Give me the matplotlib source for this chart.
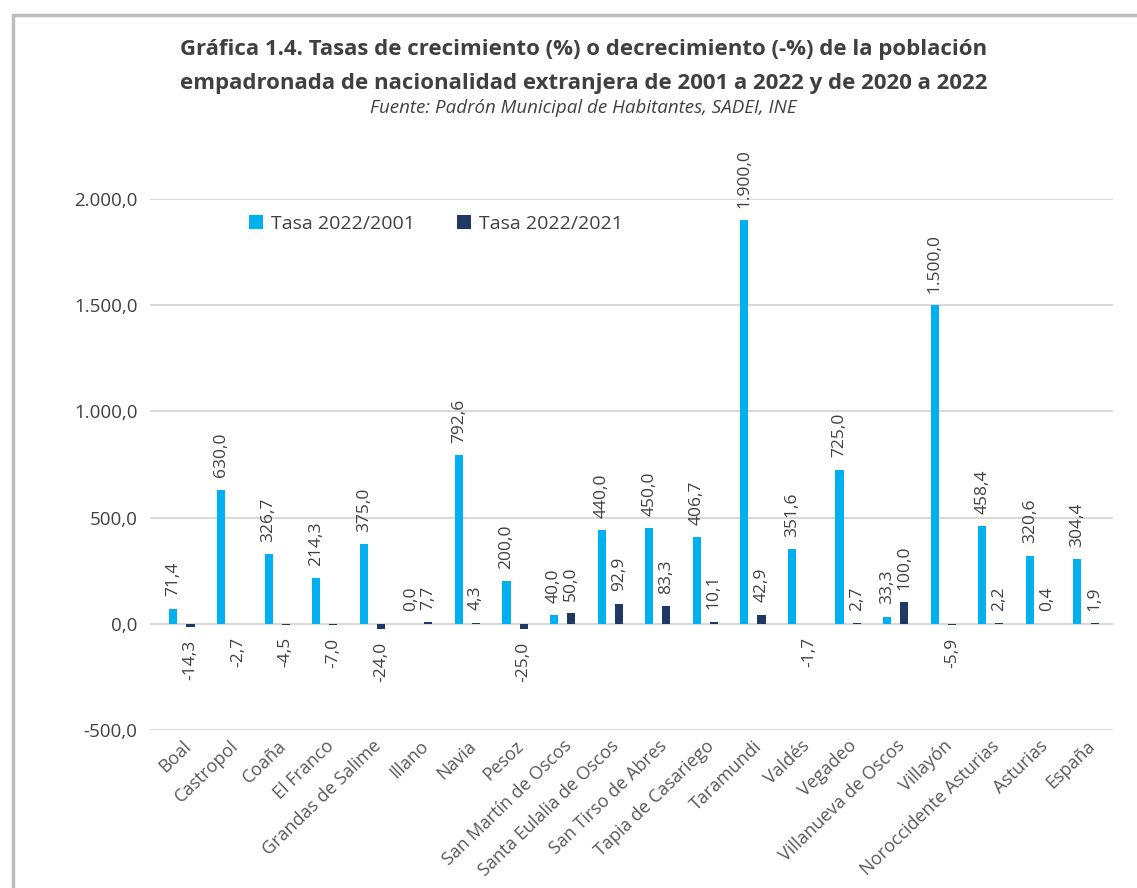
import matplotlib
matplotlib.use("Agg")
from matplotlib import pyplot as plt
from matplotlib.patches import Rectangle
import numpy as np

# datos
categorias = ['Boal', 'Castropol', 'Coaña', 'El Franco', 'Grandas de Salime', 'Illano',
              'Navia', 'Pesoz', 'San Martín de Oscos', 'Santa Eulalia de Oscos',
              'San Tirso de Abres', 'Tapia de Casariego', 'Taramundi', 'Valdés',
              'Vegadeo', 'Villanueva de Oscos', 'Villayón', 'Noroccidente Asturias',
              'Asturias', 'España']
tasa_2001 = [71.4, 630.0, 326.7, 214.3, 375.0, 0.0, 792.6, 200.0, 40.0, 440.0,
             450.0, 406.7, 1900.0, 351.6, 725.0, 33.3, 1500.0, 458.4, 320.6, 304.4]
tasa_2021 = [-14.3, -2.7, -4.5, -7.0, -24.0, 7.7, 4.3, -25.0, 50.0, 92.9,
             83.3, 10.1, 42.9, -1.7, 2.7, 100.0, -5.9, 2.2, 0.4, 1.9]
yticks = [-500, 0, 500, 1000, 1500, 2000]

C_LIGHT = '#00B0F0'
C_DARK = '#1F3864'
C_TXT = '#404040'
FONT = ['Open Sans', 'DejaVu Sans']


def fmt(v):
    s = f"{v:,.1f}"
    return s.replace(',', 'X').replace('.', ',').replace('X', '.')


fig = plt.figure(figsize=(11.37, 8.88), dpi=100)
ax = fig.add_axes([0.132, 0.178, 0.847, 0.598])

# marco del gráfico
fig.patches.append(Rectangle((0.011, -0.05), 1.1, 1.033, transform=fig.transFigure,
                             fill=False, edgecolor='#BDBDBD', lw=2.5, zorder=0))

x = np.arange(len(categorias))
w = 0.17
off = 0.18
ax.bar(x - off, tasa_2001, w, color=C_LIGHT, label='Tasa 2022/2001', zorder=3)
ax.bar(x + off, tasa_2021, w, color=C_DARK, label='Tasa 2022/2021', zorder=3)

# etiquetas de datos
for xi, v in zip(x - off, tasa_2001):
    ax.annotate(fmt(v), (xi, max(v, 0)), xytext=(0, 9), textcoords='offset points',
                rotation=90, ha='center', va='bottom', fontsize=12.5, color=C_TXT,
                family=FONT, annotation_clip=False)
for xi, v in zip(x + off, tasa_2021):
    if v >= 0:
        ax.annotate(fmt(v), (xi, v), xytext=(0, 9), textcoords='offset points',
                    rotation=90, ha='center', va='bottom', fontsize=12.5, color=C_TXT,
                    family=FONT)
    else:
        ax.annotate(fmt(v), (xi, v), xytext=(0, -9), textcoords='offset points',
                    rotation=90, ha='center', va='top', fontsize=12.5, color=C_TXT,
                    family=FONT)

ax.set_ylim(-500, 2000)
ax.set_xlim(-0.67, 19.57)
ax.set_yticks(yticks)
ax.set_yticklabels([fmt(v) for v in yticks], fontsize=13.5, color=C_TXT, family=FONT)
ax.grid(axis='y', color='#D9D9D9', lw=1.5, zorder=0)
ax.set_axisbelow(True)
ax.tick_params(axis='both', length=0)
ax.tick_params(axis='y', pad=9)
ax.set_xticks(x)
ax.set_xticklabels(categorias, rotation=44, ha='right', rotation_mode='anchor',
                   fontsize=13, color='#595959', family=FONT)
ax.tick_params(axis='x', pad=5)
for s in ax.spines.values():
    s.set_visible(False)

leg = ax.legend(loc='center left', bbox_to_anchor=(0.085, 0.953), ncol=2, frameon=False,
                handlelength=0.7, handleheight=0.7, handletextpad=0.4, columnspacing=2.2,
                prop={'family': FONT, 'size': 14})
for t in leg.get_texts():
    t.set_color(C_TXT)

# títulos
fig.text(0.513, 1 - 50 / 888, 'Gráfica 1.4. Tasas de crecimiento (%) o decrecimiento (-%) de la población',
         ha='center', va='center', fontsize=16, fontweight='bold', color=C_TXT, family=FONT)
fig.text(0.513, 1 - 83 / 888, 'empadronada de nacionalidad extranjera de 2001 a 2022 y de 2020 a 2022',
         ha='center', va='center', fontsize=16, fontweight='bold', color=C_TXT, family=FONT)
fig.text(0.513, 1 - 108 / 888, 'Fuente: Padrón Municipal de Habitantes, SADEI, INE',
         ha='center', va='center', fontsize=13.5, style='italic', color=C_TXT, family=FONT)

plt.savefig("out.png", dpi=100)
